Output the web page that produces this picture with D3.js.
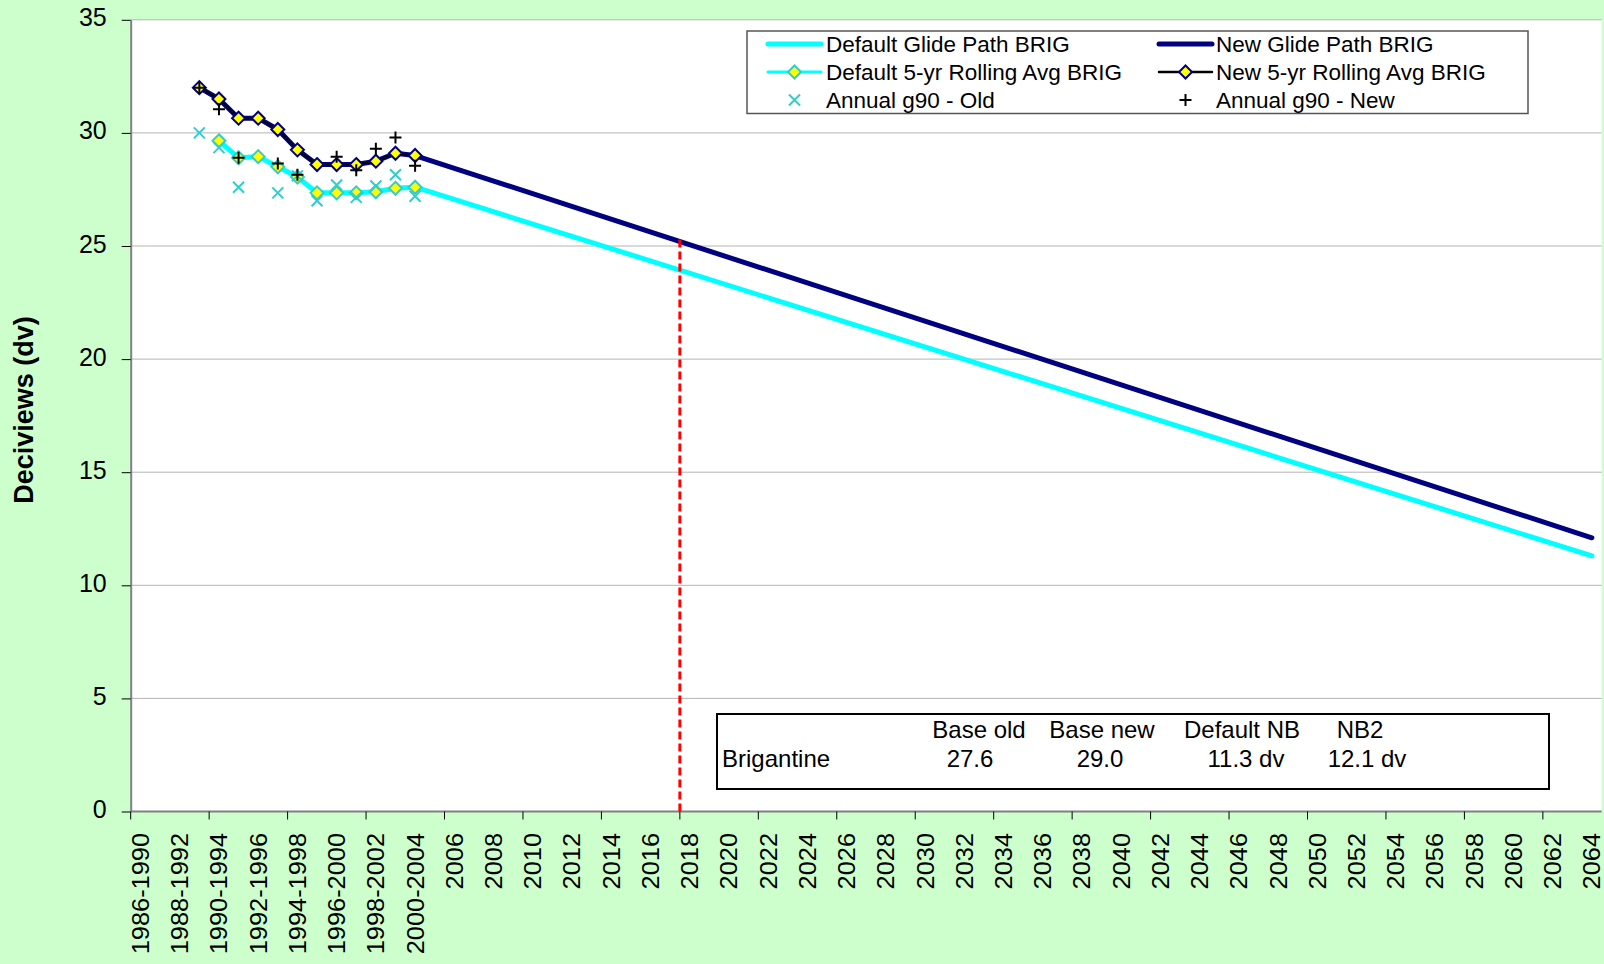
<!DOCTYPE html>
<html>
<head>
<meta charset="utf-8">
<script src="https://cdn.jsdelivr.net/npm/d3@7"></script>
<style>
  html, body { margin: 0; padding: 0; background: #ccffcc; }
  svg { display: block; font-family: "Liberation Sans", Arial, sans-serif; }
</style>
</head>
<body>
<div id="chart"></div>
<script>
"use strict"

// category labels: 5-yr windows first, then single years
var windowCats = ["1986-1990", "1987-1991", "1988-1992", "1989-1993", "1990-1994",
                  "1991-1995", "1992-1996", "1993-1997", "1994-1998", "1995-1999",
                  "1996-2000", "1997-2001", "1998-2002", "1999-2003", "2000-2004"];
var yearCats = d3.range(2005, 2065).map(String);
var categories = windowCats.concat(yearCats);
var yTicks = [0, 5, 10, 15, 20, 25, 30, 35];

// 5-yr rolling averages (new starts at 1989-1993, default at 1990-1994)
var newAvgCats = windowCats.slice(3);
var newAvg = [32.0, 31.5, 30.65, 30.65, 30.15, 29.25, 28.6, 28.6, 28.6, 28.75, 29.1, 29.0];
var defaultAvgCats = windowCats.slice(4);
var defaultAvg = [29.65, 28.9, 28.95, 28.5, 28.05, 27.35, 27.35, 27.35, 27.4, 27.55, 27.6];

// annual g90 values (null = not plotted)
var annualCats = windowCats.slice(3);
var annualNew = [32.0, 31.05, 28.9, null, 28.65, 28.15, null, 28.95, 28.35, 29.3, 29.8, 28.55];
var annualOld = [30.0, 29.35, 27.6, null, 27.35, 28.1, 27.0, 27.7, 27.15, 27.65, 28.15, 27.2];

// glide path end points
var glideEndCat = "2064";
var defaultGlideEnd = 11.3;
var newGlideEnd = 12.1;

// marker year for the dashed line
var markerCat = "2018";
var markerTop = 25.4;

var tableHeaders = ["Base old", "Base new", "Default NB", "NB2"];
var siteName = "Brigantine";

// layout
var width = 1604, height = 964;
var plot = {left: 130.7, right: 1601.7, top: 19.8, bottom: 811.5};
var font = "Liberation Sans, Arial, sans-serif";

var svg = d3.select("#chart").append("svg")
    .attr("width", width)
    .attr("height", height);

svg.append("rect")
    .attr("width", width)
    .attr("height", height)
    .attr("fill", "#ccffcc");

var x = d3.scaleBand().domain(categories).range([plot.left, plot.right]);
var y = d3.scaleLinear().domain([0, 35]).range([plot.bottom, plot.top]);
function cx(c) { return x(c) + x.bandwidth() / 2; }

// plot area
svg.append("rect")
    .attr("x", plot.left)
    .attr("y", plot.top)
    .attr("width", plot.right - plot.left)
    .attr("height", plot.bottom - plot.top)
    .attr("fill", "#ffffff");

// horizontal gridlines
svg.append("g").selectAll("line")
  .data(yTicks.slice(1))
    .enter().append("line")
      .attr("x1", plot.left)
      .attr("x2", plot.right)
      .attr("y1", function(d) { return y(d); })
      .attr("y2", function(d) { return y(d); })
      .attr("stroke", "#b4b4b4")
      .attr("stroke-width", 1);

// y axis
var yAxis = svg.append("g")
    .attr("transform", "translate(" + plot.left + ",0)")
    .call(d3.axisLeft(y).tickValues(yTicks).tickSize(9).tickSizeOuter(0).tickPadding(15));
yAxis.select(".domain").attr("stroke", "#808080").attr("stroke-width", 2);
yAxis.selectAll(".tick line").attr("stroke", "#000");
yAxis.selectAll(".tick text")
    .attr("font-family", font)
    .attr("font-size", 25)
    .attr("fill", "#000")
    .attr("dy", "0.24em");

// x axis line, ticks every 4 categories, labels every 2
svg.append("line")
    .attr("x1", plot.left - 1)
    .attr("x2", plot.right)
    .attr("y1", plot.bottom)
    .attr("y2", plot.bottom)
    .attr("stroke", "#808080")
    .attr("stroke-width", 2);

svg.append("g").selectAll("line")
  .data(categories.filter(function(d, i) { return i % 4 == 0; }))
    .enter().append("line")
      .attr("x1", function(d) { return x(d); })
      .attr("x2", function(d) { return x(d); })
      .attr("y1", plot.bottom)
      .attr("y2", plot.bottom + 8)
      .attr("stroke", "#000");

// labels are a little stretched along their length, as in the original
svg.append("g").selectAll("text")
  .data(categories.filter(function(d, i) { return i % 2 == 0; }))
    .enter().append("text")
      .attr("transform", function(d) { return "translate(" + cx(d) + ",833) rotate(-90) scale(1.08,1)"; })
      .attr("text-anchor", "end")
      .attr("dy", "0.36em")
      .attr("font-family", font)
      .attr("font-size", 23.5)
      .text(function(d) { return d; });

// y axis title
svg.append("text")
    .attr("transform", "translate(33,410) rotate(-90)")
    .attr("text-anchor", "middle")
    .attr("font-family", font)
    .attr("font-size", 27)
    .attr("font-weight", "bold")
    .text("Deciviews (dv)");

// series data
function pairs(cats, vals) {
  return cats.map(function(c, i) { return {cat: c, v: vals[i]}; });
}
var newAvgData = pairs(newAvgCats, newAvg);
var defaultAvgData = pairs(defaultAvgCats, defaultAvg);
var newGlideData = newAvgData.concat([{cat: glideEndCat, v: newGlideEnd}]);
var defaultGlideData = defaultAvgData.concat([{cat: glideEndCat, v: defaultGlideEnd}]);
var annualNewData = pairs(annualCats, annualNew).filter(function(d) { return d.v != null; });
var annualOldData = pairs(annualCats, annualOld).filter(function(d) { return d.v != null; });

var line = d3.line()
    .x(function(d) { return cx(d.cat); })
    .y(function(d) { return y(d.v); });

var diamond = "M0,-6.5L6.5,0L0,6.5L-6.5,0Z";
var cross = "M-5.5,-5.5L5.5,5.5M-5.5,5.5L5.5,-5.5";
var plus = "M-6,0H6M0,-6V6";

var layer = svg.append("g");

function drawLine(data, color, w) {
  layer.append("path")
      .attr("d", line(data))
      .attr("fill", "none")
      .attr("stroke", color)
      .attr("stroke-width", w)
      .attr("stroke-linejoin", "round")
      .attr("stroke-linecap", "round");
}
function drawMarkers(data, shape, fill, stroke, w) {
  layer.append("g").selectAll("path")
    .data(data)
      .enter().append("path")
        .attr("transform", function(d) { return "translate(" + cx(d.cat) + "," + y(d.v) + ")"; })
        .attr("d", shape)
        .attr("fill", fill)
        .attr("stroke", stroke)
        .attr("stroke-width", w);
}

// glide paths
drawLine(defaultGlideData, "#00ffff", 5);
drawLine(newGlideData, "#000080", 5);
// rolling averages
drawLine(defaultAvgData, "#00ffff", 2.5);
drawMarkers(defaultAvgData, diamond, "#ffff00", "#33cccc", 2);
drawLine(newAvgData, "#000000", 2);
drawMarkers(newAvgData, diamond, "#ffff00", "#000080", 2);
// annual values
drawMarkers(annualOldData, cross, "none", "#33cccc", 2);
drawMarkers(annualNewData, plus, "none", "#000000", 2);

// dashed marker line
svg.append("line")
    .attr("x1", x(markerCat))
    .attr("x2", x(markerCat))
    .attr("y1", y(0))
    .attr("y2", y(markerTop))
    .attr("stroke", "#ff0000")
    .attr("stroke-width", 3)
    .attr("stroke-dasharray", "8,4");

// legend
var legendItems = [
  {label: "Default Glide Path BRIG", col: 0, row: 0, line: "#00ffff", lw: 5},
  {label: "New Glide Path BRIG", col: 1, row: 0, line: "#000080", lw: 5},
  {label: "Default 5-yr Rolling Avg BRIG", col: 0, row: 1, line: "#00ffff", lw: 3, shape: diamond, fill: "#ffff00", stroke: "#33cccc"},
  {label: "New 5-yr Rolling Avg BRIG", col: 1, row: 1, line: "#000000", lw: 2.5, shape: diamond, fill: "#ffff00", stroke: "#000080"},
  {label: "Annual g90 - Old", col: 0, row: 2, shape: cross, fill: "none", stroke: "#33cccc"},
  {label: "Annual g90 - New", col: 1, row: 2, shape: plus, fill: "none", stroke: "#000000"}
];
var legendCol = [768, 1159], legendRow = [44, 72, 100], legendText = [826, 1216];

var legend = svg.append("g").attr("class", "legend");
legend.append("rect")
    .attr("x", 747)
    .attr("y", 31)
    .attr("width", 781)
    .attr("height", 82.5)
    .attr("fill", "#ffffff")
    .attr("stroke", "#555")
    .attr("stroke-width", 1.5);

var entries = legend.selectAll(".legend-item")
  .data(legendItems)
    .enter().append("g")
      .attr("class", "legend-item")
      .attr("transform", function(d) { return "translate(" + legendCol[d.col] + "," + legendRow[d.row] + ")"; });
entries.filter(function(d) { return d.line; }).append("line")
    .attr("x1", 0)
    .attr("x2", 53)
    .attr("stroke", function(d) { return d.line; })
    .attr("stroke-width", function(d) { return d.lw; })
    .attr("stroke-linecap", "round");
entries.filter(function(d) { return d.shape; }).append("path")
    .attr("transform", "translate(26.5,0)")
    .attr("d", function(d) { return d.shape; })
    .attr("fill", function(d) { return d.fill; })
    .attr("stroke", function(d) { return d.stroke; })
    .attr("stroke-width", 2);
entries.append("text")
    .attr("x", function(d) { return legendText[d.col] - legendCol[d.col]; })
    .attr("dy", "0.36em")
    .attr("font-family", font)
    .attr("font-size", 22.5)
    .text(function(d) { return d.label; });

// summary table
var tableValues = [defaultAvg[defaultAvg.length - 1].toFixed(1),
                   newAvg[newAvg.length - 1].toFixed(1),
                   defaultGlideEnd.toFixed(1) + " dv",
                   newGlideEnd.toFixed(1) + " dv"];
var headerX = [979, 1102, 1242, 1360], valueX = [970, 1100, 1246, 1367];

var table = svg.append("g").attr("font-family", font).attr("font-size", 24);
table.append("rect")
    .attr("x", 717)
    .attr("y", 714)
    .attr("width", 832)
    .attr("height", 75)
    .attr("fill", "#ffffff")
    .attr("stroke", "#000")
    .attr("stroke-width", 2);
table.selectAll(".head")
  .data(tableHeaders)
    .enter().append("text")
      .attr("class", "head")
      .attr("x", function(d, i) { return headerX[i]; })
      .attr("y", 738)
      .attr("text-anchor", "middle")
      .text(function(d) { return d; });
table.selectAll(".val")
  .data(tableValues)
    .enter().append("text")
      .attr("class", "val")
      .attr("x", function(d, i) { return valueX[i]; })
      .attr("y", 767)
      .attr("text-anchor", "middle")
      .text(function(d) { return d; });
table.append("text")
    .attr("x", 722)
    .attr("y", 767)
    .text(siteName);
</script>
</body>
</html>
